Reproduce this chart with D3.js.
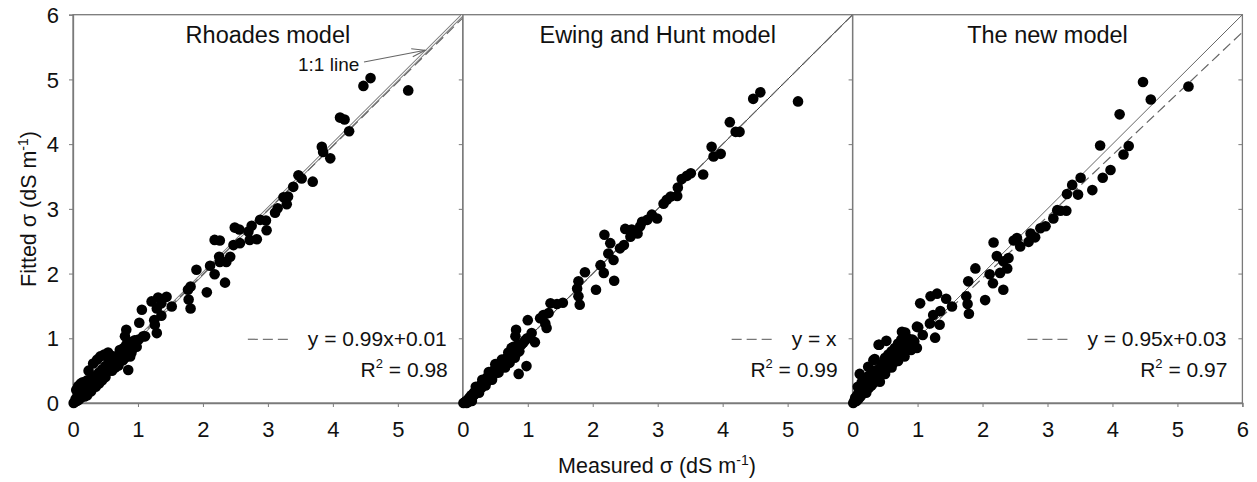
<!DOCTYPE html>
<html><head><meta charset="utf-8">
<script src="https://cdn.jsdelivr.net/npm/d3@7"></script>
<style>
body{margin:0;background:#fff;}
text{font-family:"Liberation Sans",Arial,sans-serif;fill:#111;}
</style></head>
<body><svg id="chart" width="1257" height="482"></svg>
<script>
// ---------------- DATA ----------------
const panelTitles = ["Rhoades model", "Ewing and Hunt model", "The new model"];
const fitEquations = ["y = 0.99x+0.01", "y = x", "y = 0.95x+0.03"];
const fitR2 = ["0.98", "0.99", "0.97"];
const fitSlope = [0.99, 1.0, 0.95];
const fitIntercept = [0.01, 0.0, 0.03];
const xTickValues = [0, 1, 2, 3, 4, 5, 6];
const yTickValues = [0, 1, 2, 3, 4, 5, 6];

// Rhoades model: measured, fitted
const rhoadesX = [5.16,4.58,4.47,4.11,4.18,4.25,3.83,3.85,3.96,3.47,3.52,3.69,3.39,3.24,3.31,3.29,3.15,3.11,2.97,2.88,2.98,2.75,2.70,2.72,2.83,2.49,2.56,2.57,2.47,2.18,2.26,2.42,2.25,2.26,2.36,2.34,2.11,2.18,2.06,1.90,1.81,1.77,1.78,1.81,1.52,1.44,1.36,1.31,1.21,1.29,1.36,1.25,1.26,1.29,1.06,1.02,1.08,1.01,0.93,0.82,0.80,0.85,1.11,0.98,0.88,0.77,0.54,0.42,0.31,0.24,0.37,0.48,
 0.01,0.03,0.04,0.06,0.07,0.09,0.10,0.11,0.12,0.13,0.14,0.16,0.17,0.18,0.20,0.21,0.23,0.24,0.26,0.27,0.29,0.30,0.32,0.33,0.35,0.37,0.38,0.40,0.42,0.43,0.45,0.47,0.48,0.50,0.52,0.53,0.55,0.57,0.58,0.60,0.62,0.63,0.65,0.67,0.68,0.70,0.72,0.73,0.75,0.76,0.78,0.80,0.82,0.84,0.86,0.88,0.90,0.93,0.95,0.05,0.08,0.15,0.19,0.12,0.22,
 0.45,0.50,0.60,0.65,0.70,0.55,0.62,0.35,0.28,0.40,0.80,0.72,0.90,0.18,0.22];
const rhoadesY = [4.83,5.02,4.90,4.41,4.38,4.20,3.96,3.88,3.78,3.52,3.47,3.42,3.34,3.18,3.19,3.07,3.01,2.94,2.82,2.83,2.67,2.74,2.65,2.52,2.53,2.71,2.68,2.47,2.44,2.52,2.51,2.26,2.26,2.18,2.18,1.86,2.12,1.99,1.71,2.06,1.80,1.75,1.60,1.46,1.49,1.64,1.54,1.63,1.57,1.46,1.35,1.28,1.21,1.08,1.44,1.24,1.03,0.98,0.90,1.13,1.03,0.51,1.03,0.87,0.72,0.66,0.78,0.72,0.61,0.50,0.67,0.75,
 0.00,0.02,0.06,0.03,0.10,0.05,0.15,0.20,0.08,0.25,0.12,0.28,0.18,0.10,0.22,0.30,0.16,0.27,0.33,0.22,0.30,0.38,0.27,0.35,0.42,0.33,0.40,0.47,0.38,0.45,0.52,0.43,0.50,0.57,0.48,0.55,0.60,0.52,0.58,0.64,0.56,0.62,0.68,0.60,0.70,0.65,0.75,0.68,0.80,0.72,0.85,0.76,0.90,0.82,0.78,0.88,0.94,0.85,0.97,0.20,0.26,0.32,0.12,0.30,0.35,
 0.35,0.40,0.50,0.55,0.58,0.65,0.72,0.25,0.18,0.30,0.70,0.82,0.78,0.26,0.12];

// Ewing and Hunt model
const ewingX = [5.16,4.58,4.47,4.11,4.20,4.26,3.83,3.86,3.97,3.70,3.51,3.45,3.37,3.31,3.30,3.20,3.14,3.09,2.99,2.91,2.84,2.76,2.73,2.69,2.58,2.60,2.50,2.48,2.42,2.27,2.18,2.24,2.32,2.33,2.12,2.17,2.05,1.88,1.78,1.76,1.78,1.80,1.54,1.45,1.35,1.32,1.24,1.19,1.27,1.29,1.00,1.06,1.11,0.99,0.82,0.81,0.98,0.86,0.78,
 0.01,0.03,0.05,0.06,0.08,0.10,0.12,0.13,0.15,0.17,0.18,0.20,0.22,0.24,0.25,0.27,0.29,0.30,0.32,0.34,0.35,0.37,0.39,0.40,0.42,0.44,0.46,0.47,0.49,0.51,0.53,0.55,0.57,0.59,0.61,0.63,0.65,0.67,0.69,0.71,0.73,0.75,0.77,0.79,0.82,0.84,0.87,0.90,0.93,0.96,0.14,0.09,
 0.40,0.45,0.50,0.55,0.60,0.65,0.70,0.72,0.80,0.85,0.30,0.35,0.20,0.25,0.75];
const ewingY = [4.66,4.80,4.70,4.34,4.19,4.19,3.96,3.81,3.85,3.53,3.55,3.51,3.46,3.33,3.20,3.19,3.14,3.08,2.85,2.91,2.83,2.80,2.73,2.62,2.57,2.68,2.69,2.44,2.39,2.47,2.60,2.31,2.21,1.89,2.13,2.01,1.75,2.02,1.88,1.77,1.65,1.52,1.55,1.53,1.54,1.39,1.36,1.31,1.23,1.16,1.28,1.08,0.94,1.00,1.13,1.03,0.57,0.45,0.87,
 0.00,0.01,0.03,0.00,0.05,0.08,0.06,0.12,0.10,0.16,0.13,0.19,0.17,0.23,0.20,0.27,0.24,0.31,0.28,0.35,0.31,0.39,0.35,0.43,0.38,0.46,0.42,0.50,0.46,0.53,0.50,0.57,0.54,0.61,0.57,0.65,0.60,0.69,0.64,0.73,0.68,0.77,0.72,0.80,0.76,0.84,0.80,0.90,0.93,0.97,0.03,0.02,
 0.48,0.36,0.60,0.47,0.67,0.55,0.78,0.62,0.70,0.90,0.36,0.27,0.25,0.16,0.85];

// The new model
const newX = [5.17,4.47,4.59,4.11,4.25,4.17,3.81,3.85,3.97,3.69,3.51,3.38,3.47,3.30,3.29,3.20,3.15,3.09,2.97,2.89,2.81,2.74,2.71,2.58,2.53,2.48,2.17,2.22,2.32,2.40,2.38,2.27,2.32,2.11,2.16,2.04,1.89,1.78,1.75,1.77,1.79,1.53,1.44,1.30,1.20,1.04,1.35,1.24,1.19,1.34,1.27,1.01,1.08,0.99,0.81,0.52,0.41,0.11,0.34,0.24,0.32,0.40,0.76,0.99,0.42,
 0.01,0.03,0.04,0.06,0.07,0.09,0.10,0.12,0.13,0.15,0.16,0.18,0.20,0.21,0.23,0.25,0.27,0.29,0.30,0.32,0.34,0.36,0.38,0.40,0.42,0.44,0.46,0.48,0.50,0.52,0.54,0.56,0.58,0.60,0.62,0.64,0.66,0.68,0.70,0.72,0.74,0.76,0.78,0.80,0.83,0.86,0.89,0.92,0.95,0.08,0.14,0.19,
 0.30,0.35,0.45,0.50,0.55,0.60,0.65,0.70,0.75,0.50,0.60,0.70,0.80,0.20,0.25,0.85,0.90];
const newY = [4.89,4.96,4.69,4.46,3.97,3.84,3.98,3.48,3.60,3.29,3.48,3.37,3.22,3.23,2.97,2.97,2.98,2.85,2.73,2.70,2.56,2.62,2.49,2.42,2.55,2.51,2.48,2.27,2.19,2.24,2.08,2.01,1.75,1.99,1.85,1.59,2.08,1.88,1.65,1.53,1.38,1.49,1.61,1.69,1.65,1.54,1.42,1.36,1.23,1.21,1.01,1.17,1.05,0.85,1.09,0.96,0.90,0.45,0.68,0.56,0.66,0.90,1.10,1.18,0.33,
 0.00,0.04,0.08,0.03,0.12,0.06,0.18,0.10,0.22,0.14,0.27,0.19,0.30,0.16,0.34,0.23,0.38,0.27,0.42,0.31,0.46,0.35,0.50,0.40,0.54,0.44,0.58,0.48,0.62,0.52,0.66,0.56,0.70,0.60,0.74,0.63,0.78,0.67,0.82,0.71,0.86,0.75,0.90,0.79,0.88,0.92,0.86,0.98,0.95,0.25,0.32,0.38,
 0.40,0.50,0.60,0.70,0.75,0.80,0.85,0.92,0.98,0.45,0.55,0.65,0.72,0.30,0.42,1.00,0.82];

const panelXs = [rhoadesX, ewingX, newX];
const panelYs = [rhoadesY, ewingY, newY];

// ---------------- DRAW ----------------
const svg = d3.select("#chart");
const plotTop = 14.7, plotBottom = 403, pw = 389.8, left0 = 73;
const frameColor = "#7a7a7a";

for (let i = 0; i < 3; i++) {
  const x0 = left0 + i * pw;
  const x = d3.scaleLinear().domain([0, 6]).range([x0, x0 + pw]);
  const y = d3.scaleLinear().domain([0, 6]).range([plotBottom, plotTop]);
  const g = svg.append("g");

  const clipId = "clip" + i;
  svg.append("clipPath").attr("id", clipId).append("rect")
    .attr("x", x0).attr("y", plotTop).attr("width", pw).attr("height", plotBottom - plotTop);

  // frame
  g.append("rect").attr("x", x0).attr("y", plotTop).attr("width", pw).attr("height", plotBottom - plotTop)
    .attr("fill", "none").attr("stroke", frameColor).attr("stroke-width", 1.3);

  // 1:1 line
  const lines = g.append("g").attr("clip-path", `url(#${clipId})`);
  if (i === 0) {
    lines.append("line").attr("x1", x(0)).attr("y1", y(0)).attr("x2", x(6)).attr("y2", y(6))
      .attr("stroke", "#777").attr("stroke-width", 3);
    lines.append("line").attr("x1", x(0)).attr("y1", y(0)).attr("x2", x(6)).attr("y2", y(6))
      .attr("stroke", "#fff").attr("stroke-width", 1.2);
  } else {
    lines.append("line").attr("x1", x(0)).attr("y1", y(0)).attr("x2", x(6)).attr("y2", y(6))
      .attr("stroke", i === 1 ? "#333" : "#666").attr("stroke-width", 1);
  }
  // fitted dashed line
  lines.append("line")
    .attr("x1", x(0)).attr("y1", y(fitIntercept[i]))
    .attr("x2", x(6)).attr("y2", y(fitSlope[i] * 6 + fitIntercept[i]))
    .attr("stroke", "#666").attr("stroke-width", 1.2).attr("stroke-dasharray", "10,5");

  // bottom axis
  const xtv = i === 2 ? xTickValues : xTickValues.slice(0, 6);
  const xa = g.append("g").attr("transform", `translate(0,${plotBottom})`)
    .call(d3.axisBottom(x).tickValues(xtv).tickSize(4).tickPadding(14).tickFormat(d3.format("d")));
  xa.select(".domain").attr("stroke", frameColor).attr("stroke-width", 1.3);
  xa.selectAll(".tick line").attr("stroke", frameColor);
  xa.selectAll("text").style("font-size", "22px").attr("fill", "#111");

  // left axis on first panel
  if (i === 0) {
    const ya = g.append("g").attr("transform", `translate(${x0},0)`)
      .call(d3.axisLeft(y).tickValues(yTickValues).tickSize(4).tickPadding(10).tickFormat(d3.format("d")));
    ya.select(".domain").attr("stroke", frameColor).attr("stroke-width", 1.3);
    ya.selectAll(".tick line").attr("stroke", frameColor);
    ya.selectAll("text").style("font-size", "22px").attr("fill", "#111").attr("dy", "0.35em");
  }
  // inward ticks on right border
  const ra = g.append("g").attr("transform", `translate(${x0 + pw},0)`)
    .call(d3.axisLeft(y).tickValues(yTickValues.slice(1, 6)).tickSize(4).tickFormat(""));
  ra.select(".domain").remove();
  ra.selectAll(".tick line").attr("stroke", frameColor);

  // points
  const pts = d3.zip(panelXs[i], panelYs[i]);
  g.append("g").selectAll("circle").data(pts).join("circle")
    .attr("cx", d => x(d[0])).attr("cy", d => y(d[1])).attr("r", 5.3).attr("fill", "#000");

  // title
  g.append("text").attr("x", x(3)).attr("y", 43).attr("text-anchor", "middle")
    .style("font-size", "23.5px").text(panelTitles[i]);

  // legend
  const rx = x0 + pw - 16;
  const legY = y(1) + 8;
  const eq = g.append("text").attr("x", rx).attr("y", legY).attr("text-anchor", "end")
    .style("font-size", "21px").text(fitEquations[i]);
  const eqW = eq.node().getComputedTextLength();
  const lx2 = rx - eqW - 18;
  g.append("line").attr("x1", lx2 - 42).attr("x2", lx2).attr("y1", legY - 7).attr("y2", legY - 7)
    .attr("stroke", "#777").attr("stroke-width", 1.3).attr("stroke-dasharray", "10,5");
  const r2 = g.append("text").attr("x", rx + 1).attr("y", legY + 31).attr("text-anchor", "end")
    .style("font-size", "21px");
  r2.append("tspan").text("R");
  r2.append("tspan").attr("dy", -9).style("font-size", "13px").text("2");
  r2.append("tspan").attr("dy", 9).text(" = " + fitR2[i]);

  if (i === 0) {
    g.append("text").attr("x", 298).attr("y", 71).style("font-size", "19px").text("1:1 line");
    const ax1 = 364, ay1 = 62, ax2 = x(5.42), ay2 = y(5.42) - 2;
    g.append("line").attr("x1", ax1).attr("y1", ay1).attr("x2", ax2).attr("y2", ay2)
      .attr("stroke", "#666").attr("stroke-width", 1.1);
    const ang = Math.atan2(ay2 - ay1, ax2 - ax1);
    const hl = 14, ha = 0.3;
    g.append("path")
      .attr("d", `M${ax2 - hl * Math.cos(ang - ha)},${ay2 - hl * Math.sin(ang - ha)} L${ax2},${ay2} L${ax2 - hl * Math.cos(ang + ha)},${ay2 - hl * Math.sin(ang + ha)}`)
      .attr("fill", "none").attr("stroke", "#666").attr("stroke-width", 1.1);
  }
}

// axis titles
const xTitle = svg.append("text").attr("x", 657).attr("y", 473).attr("text-anchor", "middle").style("font-size", "21.5px");
xTitle.append("tspan").text("Measured σ (dS m");
xTitle.append("tspan").attr("dy", -8).style("font-size", "14px").text("-1");
xTitle.append("tspan").attr("dy", 8).text(")");

const yTitle = svg.append("text").attr("transform", "translate(36,209) rotate(-90)").attr("text-anchor", "middle").style("font-size", "21.5px");
yTitle.append("tspan").text("Fitted σ (dS m");
yTitle.append("tspan").attr("dy", -8).style("font-size", "14px").text("-1");
yTitle.append("tspan").attr("dy", 8).text(")");
</script></body></html>
